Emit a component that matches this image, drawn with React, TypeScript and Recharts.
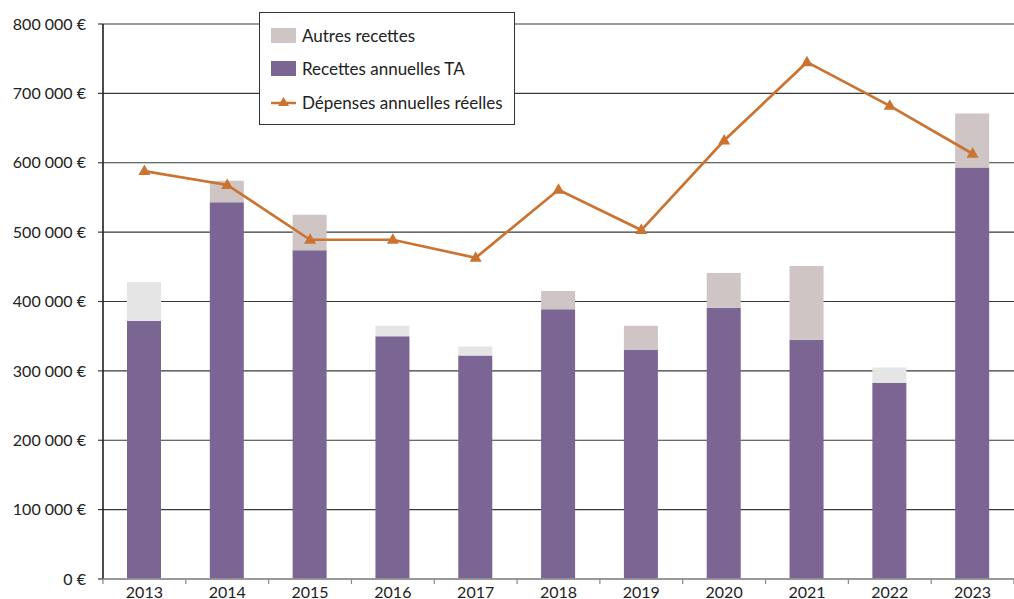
import React from 'react';
import { ComposedChart, Bar, Line, XAxis, YAxis, CartesianGrid, Legend, Cell } from 'recharts';

const years = ['2013', '2014', '2015', '2016', '2017', '2018', '2019', '2020', '2021', '2022', '2023'];
const recettesTA = [372000, 543000, 474000, 350000, 322000, 389000, 330000, 391000, 345000, 283000, 593000];
const autresRecettes = [56000, 31000, 51000, 15000, 13000, 26000, 35000, 50000, 106000, 22000, 78000];
const depenses = [588000, 568000, 489000, 489000, 463000, 561000, 503000, 632000, 745000, 682000, 613000];
const yTicks = [0, 100000, 200000, 300000, 400000, 500000, 600000, 700000, 800000];
// years whose "Autres recettes" segment is drawn in the lighter grey
const lightAutres = ['2013', '2016', '2017', '2022'];

const data = years.map((y, i) => ({
  year: y,
  ta: recettesTA[i],
  autres: autresRecettes[i],
  dep: depenses[i],
}));

const PURPLE = '#7b6593';
const AUTRES = '#cfc5c5';
const AUTRES_LIGHT = '#e5e5e5';
const ORANGE = '#cb7330';
const FONT = 'Lato, "Open Sans", sans-serif';

const CHART_W = 1014;
const CHART_H = 599;
const Y_W = 103;
const BAND = (CHART_W - Y_W) / years.length;

const fmt = (v: number) => {
  if (v === 0) return '0 €';
  const s = String(v);
  return s.replace(/\B(?=(\d{3})+(?!\d))/g, ' ') + ' €';
};

const Triangle = (props: any) => {
  const { cx, cy } = props;
  if (cx == null || cy == null) return null;
  return <path d={`M${cx},${cy - 6.5} L${cx + 6},${cy + 4} L${cx - 6},${cy + 4} Z`} fill={ORANGE} />;
};

const XTick = (props: any) => {
  const { x, y, payload, index } = props;
  const left = x - BAND / 2;
  return (
    <g>
      <line x1={left} y1={y} x2={left} y2={y + 5} stroke="#888" strokeWidth={1.2} />
      {index === years.length - 1 && (
        <line x1={x + BAND / 2} y1={y} x2={x + BAND / 2} y2={y + 5} stroke="#888" strokeWidth={1.2} />
      )}
      <text x={x} y={y + 18.5} textAnchor="middle" fontFamily={FONT} fontSize={16} fill="#222">
        {payload.value}
      </text>
    </g>
  );
};

const LegendBox = () => (
  <div
    style={{
      position: 'absolute',
      left: 259,
      top: 12,
      width: 256,
      height: 113,
      border: '1px solid #333',
      background: '#fff',
      fontFamily: FONT,
      fontSize: 17,
      color: '#222',
      boxSizing: 'border-box',
    }}
  >
    {[
      { label: 'Autres recettes', kind: 'sq', color: AUTRES },
      { label: 'Recettes annuelles TA', kind: 'sq', color: PURPLE },
      { label: 'Dépenses annuelles réelles', kind: 'line', color: ORANGE },
    ].map((it, i) => (
      <div key={i} style={{ position: 'absolute', left: 11, top: 13 + i * 33.5, height: 18, display: 'flex', alignItems: 'center', whiteSpace: 'nowrap' }}>
        {it.kind === 'sq' ? (
          <div style={{ width: 25, height: 15, background: it.color }} />
        ) : (
          <svg width={25} height={15}>
            <line x1={0} y1={8} x2={25} y2={8} stroke={ORANGE} strokeWidth={2.5} />
            <path d="M12.5,2 L18,11 L7,11 Z" fill={ORANGE} />
          </svg>
        )}
        <span style={{ marginLeft: 6 }}>{it.label}</span>
      </div>
    ))}
  </div>
);

export default function App() {
  return (
    <div style={{ position: 'absolute', left: 0, top: 0, width: CHART_W, height: CHART_H, background: '#fff' }}>
      <ComposedChart width={CHART_W} height={CHART_H} data={data} margin={{ top: 24, right: 0, bottom: 0, left: 0 }}>
        <CartesianGrid horizontal vertical={false} stroke="#3a3a3a" strokeWidth={1.2} />
        <YAxis
          width={Y_W}
          domain={[0, 800000]}
          ticks={yTicks}
          tickFormatter={fmt}
          axisLine={{ stroke: '#111', strokeWidth: 1.5 }}
          tickLine={{ stroke: '#3a3a3a', strokeWidth: 1.2 }}
          tickSize={5}
          tickMargin={12}
          tick={{ fontFamily: FONT, fontSize: 16, fill: '#222' }}
          interval={0}
        />
        <XAxis
          dataKey="year"
          height={20}
          axisLine={{ stroke: '#999', strokeWidth: 1.5 }}
          tickLine={false}
          tickSize={0}
          tickMargin={0}
          tick={<XTick />}
          interval={0}
        />
        <Legend content={<LegendBox />} wrapperStyle={{ position: 'absolute', left: 0, top: 0, width: 0, height: 0 }} />
        <Bar dataKey="ta" stackId="a" fill={PURPLE} barSize={34} isAnimationActive={false} name="Recettes annuelles TA" />
        <Bar dataKey="autres" stackId="a" fill={AUTRES} barSize={34} isAnimationActive={false} name="Autres recettes">
          {data.map((d) => (
            <Cell key={d.year} fill={lightAutres.includes(d.year) ? AUTRES_LIGHT : AUTRES} />
          ))}
        </Bar>
        <Line
          dataKey="dep"
          stroke={ORANGE}
          strokeWidth={2.7}
          dot={<Triangle />}
          activeDot={false}
          isAnimationActive={false}
          name="Dépenses annuelles réelles"
        />
      </ComposedChart>
    </div>
  );
}
